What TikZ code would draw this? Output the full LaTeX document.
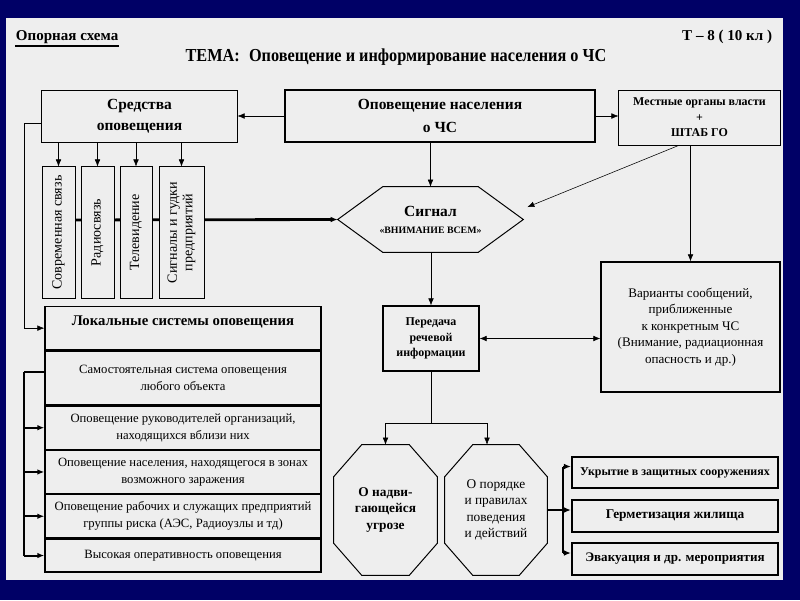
\documentclass[tikz,border=0pt]{standalone}
\usepackage{fontspec}
\setmainfont{Liberation Serif}
\newfontfamily\narrowserif{Liberation Serif}[FakeStretch=0.89]
\usepackage{tikz}
\usetikzlibrary{calc,positioning,arrows.meta,backgrounds}

\definecolor{slidenavy}{RGB}{0,0,102}
\definecolor{slidegray}{RGB}{238,238,238}

\begin{document}
\begin{tikzpicture}[x=0.025cm, y=-0.025cm, align=center,
    >={Latex[length=5pt,width=4pt]},
    box/.style={draw, fill=slidegray, line width=0.7pt, inner sep=1pt},
    boldbox/.style={box, line width=1.4pt},
    vbox/.style={box, rotate=90, minimum width=3.275cm, font=\fontsize{10}{11}\selectfont},
    tabrow/.style={box, line width=0.9pt, minimum width=6.9cm, font=\fontsize{9}{12}\selectfont},
    octagon/.style={inner sep=1pt, minimum width=2.575cm, minimum height=3.25cm},
    outline/.style={line width=0.7pt},
    bus/.style={line width=1.4pt},
]
    \useasboundingbox (0,0) rectangle (800,600);

    \node [anchor=west, font=\bfseries\fontsize{10.7}{12}\selectfont] (scheme) at (11,37) {Опорная схема};
    \node [anchor=east, font=\bfseries\fontsize{10.7}{12}\selectfont] (grade) at (777,37) {Т – 8 ( 10 кл )};
    \node [font=\narrowserif\bfseries\fontsize{13}{15}\selectfont] (topic) at (396,57) {ТЕМА:\enspace Оповещение и информирование населения о ЧС};
    \draw [line width=1.5pt] ([xshift=3pt, yshift=2pt]scheme.south west) -- ([xshift=-3pt, yshift=2pt]scheme.south east);

    \node [box, minimum width=4.875cm, minimum height=1.3cm, font=\bfseries\fontsize{11}{15}\selectfont] (means) at (139.5,116) {Средства\\оповещения};
    \node [boldbox, minimum width=7.75cm, minimum height=1.3cm, font=\bfseries\fontsize{11}{16}\selectfont] (warning) at (440,116) {Оповещение населения\\о ЧС};
    \node [box, minimum width=4.025cm, minimum height=1.375cm, font=\bfseries\fontsize{8.5}{11}\selectfont] (authority) at (699.5,117.5) {Местные органы власти\\+\\ШТАБ ГО};

    \node [vbox, minimum height=0.825cm] (phone) at (58.5,232.5) {Современная связь};
    \node [vbox, minimum height=0.825cm] (radio) at (97.5,232.5) {Радиосвязь};
    \node [vbox, minimum height=0.8cm] (tv) at (136,232.5) {Телевидение};
    \node [vbox, minimum height=1.125cm] (sirens) at (181.5,232.5) {Сигналы и гудки\\предприятий};

    \node [inner sep=1pt, minimum width=4.625cm, minimum height=1.625cm] (signal) at (430.5,219.5)
        {{\bfseries\fontsize{11}{13}\selectfont Сигнал}\\{\bfseries\fontsize{7}{9}\selectfont «ВНИМАНИЕ ВСЕМ»}};
    \draw [outline] (signal.west) -- ($(signal.north west)+(45,0)$) -- ($(signal.north east)+(-45,0)$) -- (signal.east)
        -- ($(signal.south east)+(-45,0)$) -- ($(signal.south west)+(45,0)$) -- cycle;

    \node [box, line width=0.9pt, minimum width=2.4cm, minimum height=1.625cm, font=\bfseries\fontsize{8.5}{11}\selectfont] (speech) at (431,338.5) {Передача\\речевой\\информации};
    \node [box, line width=0.9pt, minimum width=4.475cm, minimum height=3.25cm, font=\fontsize{9.3}{11.7}\selectfont] (variants) at (690.5,327) {Варианты сообщений,\\приближенные\\к конкретным ЧС\\(Внимание, радиационная\\опасность и др.)};

    \node [octagon, font=\bfseries\fontsize{9.5}{11.7}\selectfont] (threat) at (385.5,510) {О надви-\\гающейся\\угрозе};
    \node [octagon, minimum width=2.55cm, font=\fontsize{9.5}{11.7}\selectfont] (rules) at (496,510) {О порядке\\и правилах\\поведения\\и действий};
    \foreach \oct in {threat, rules}
        \draw [outline] ($(\oct.north west)+(28,0)$) -- ($(\oct.north east)+(-28,0)$) -- ($(\oct.north east)+(0,32)$)
            -- ($(\oct.south east)+(0,-32)$) -- ($(\oct.south east)+(-28,0)$) -- ($(\oct.south west)+(28,0)$)
            -- ($(\oct.south west)+(0,-32)$) -- ($(\oct.north west)+(0,32)$) -- cycle;

    \node [boldbox, minimum width=5.15cm, minimum height=0.775cm, font=\bfseries\fontsize{8.5}{10}\selectfont] (shelter) at (675,472.5) {Укрытие в защитных сооружениях};
    \node [boldbox, minimum width=5.15cm, minimum height=0.8cm, font=\bfseries\fontsize{9.5}{11}\selectfont] (sealing) at (675,516) {Герметизация жилища};
    \node [boldbox, minimum width=5.15cm, minimum height=0.8cm, font=\bfseries\fontsize{9.3}{11}\selectfont] (evacuation) at (675,559) {Эвакуация и др. мероприятия};

    % local systems
    \node [tabrow, anchor=north, minimum height=1.075cm, text depth=10pt, font=\bfseries\fontsize{10.5}{12}\selectfont] (local) at (183,306) {Локальные системы оповещения};
    \node [tabrow, minimum height=1.35cm, below=0pt of local] (own) {Самостоятельная система оповещения\\любого объекта};
    \node [tabrow, minimum height=1.075cm, below=0pt of own] (heads) {Оповещение руководителей организаций,\\находящихся вблизи них};
    \node [tabrow, minimum height=1.075cm, below=0pt of heads] (zones) {Оповещение населения, находящегося в зонах\\возможного заражения};
    \node [tabrow, minimum height=1.075cm, below=0pt of zones] (workers) {Оповещение рабочих и служащих предприятий\\группы риска (АЭС, Радиоузлы и тд)};
    \node [tabrow, minimum height=0.825cm, below=0pt of workers] (rapid) {Высокая оперативность оповещения};

    \draw[->] (warning) -- (means);
    \draw[->] (warning) -- (warning -| authority.west);
    \foreach \m in {phone, radio, tv, sirens}
        \draw[->] (means.south -| \m) -- (\m);
    \draw[->] (signal.north |- warning.south) -- (signal.north);
    \draw[->] ([xshift=-0.525cm]authority.south) -- ([xshift=0.1cm, yshift=0.31cm]signal.east);
    \draw[->] (variants.north |- authority.south) -- (variants.north);
    \draw[->] (speech.north |- signal.south) -- (speech.north);
    \draw[<->] (speech) -- (speech -| variants.west);

    \draw (speech) -- ++(0,84.5) coordinate (fork);
    \draw[->] (fork) -| (threat);
    \draw[->] (fork) -| ([xshift=-0.225cm]rules.north);

    \draw[bus] (rules.east) -- ++(16,0) coordinate (branch);
    \draw[bus] ([yshift=0.15cm]branch |- shelter) -- ([yshift=0.15cm]branch |- evacuation);
    \foreach \b in {shelter, sealing, evacuation}
        \draw[bus, ->] ([yshift=0.15cm]branch |- \b) -- ([yshift=0.15cm]\b.west);

    \draw[->] ([yshift=-0.175cm]means.west) -- ++(-17,0) |- (local.west);
    \draw[bus] ([yshift=0.15cm]own.west) -- ++(-20,0) coordinate (spine);
    \draw[bus] (spine) -- (spine |- rapid);
    \foreach \r in {heads, zones, workers, rapid}
        \draw[bus, ->] (spine |- \r) -- (\r.west);

    \begin{scope}[on background layer]
        \fill[slidenavy] (0,0) rectangle (800,600);
        \fill[slidegray] (6,18) rectangle (783,580);
        \draw[line width=2pt, ->] (phone |- 0,220) -- (signal.west);
    \end{scope}

\end{tikzpicture}
\end{document}
